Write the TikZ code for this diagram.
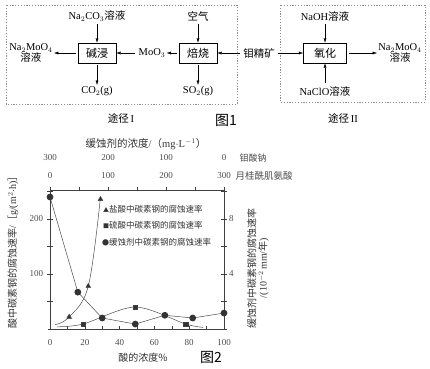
\documentclass[tikz,border=0pt]{standalone}
\usepackage{fontspec}
\setmainfont{Liberation Serif}
\newfontfamily\cjk{Noto Sans CJK SC}
\usetikzlibrary{arrows.meta,positioning,plotmarks}

\tikzset{
  proc/.style={draw, minimum width=38pt, minimum height=20pt, inner sep=0pt, font=\cjk\fontsize{11}{12}\selectfont},
  lbl/.style={inner sep=1pt, align=center, font=\fontsize{10.5}{11}\selectfont},
  flow/.style={-{Latex[length=4.5pt,width=3pt]}, draw=black, shorten <=2pt},
  route/.style={draw=black!45, dash pattern=on 1.2pt off 1.6pt},
  fig/.style={inner sep=0pt, font=\cjk\fontsize{14}{16}\selectfont},
  tk/.style={inner sep=1.5pt, text=black!70, font=\fontsize{9}{10}\selectfont},
  key/.style={anchor=west, inner sep=0pt, text=black!80, font=\cjk\fontsize{8.5}{10}\selectfont},
  curve/.style={draw=black!70, line width=0.5pt}
}

\begin{document}
\begin{tikzpicture}[x=1pt, y=-1pt]
\useasboundingbox (0,0) rectangle (430,368);

% figure 1: the two routes
\draw[route] (6,5) rectangle (237,104);
\draw[route] (280,5) rectangle (425,102);

\node[proc]                    (jian)  at (97,53)  {碱浸};
\node[proc]                    (bei)   at (198,53) {焙烧};
\node[proc,minimum width=43pt] (yang)  at (325,53) {氧化};

\node[lbl] (naco)  at (97,16)  {Na$_2$CO$_3${\cjk 溶液}};
\node[lbl] (air)   at (198,16) {\cjk 空气};
\node[lbl] (co2)   at (97,91)  {CO$_2$(g)};
\node[lbl] (so2)   at (198,91) {SO$_2$(g)};
\node[lbl] (moo)   at (152,53) {MoO$_3$};
\node[lbl] (prodl) at (31,53)  {Na$_2$MoO$_4$\\{\cjk 溶液}};
\node[lbl] (ore)   at (259,53) {\cjk 钼精矿};
\node[lbl] (naoh)  at (325,16) {NaOH{\cjk 溶液}};
\node[lbl] (naclo) at (325,91) {NaClO{\cjk 溶液}};
\node[lbl] (prodr) at (400,53) {Na$_2$MoO$_4$\\{\cjk 溶液}};

\foreach \f/\t in {% start node/end node
	 naco/jian,
	 air/bei,
	 jian/co2,
	 bei/so2,
	 ore/bei,
	 bei/moo,
	 moo/jian,
	 jian/prodl,
	 ore/yang,
	 naoh/yang,
	 naclo/yang,
	 yang/prodr}
	\path[flow] (\f) edge (\t);

\node[lbl] (r1) at (121,118) {{\cjk 途径}\,I};
\node[lbl] (r2) at (343,118) {{\cjk 途径}\,II};
\node[fig] (f1) at (226,120) {图1};

% figure 2: corrosion rates
\begin{scope}[shift={(50,329)}, x=1.74pt, y=0.55pt, draw=black!75]
  \draw (-1,0) -- (102,0);
  \draw (0,0) -- (0,258);
  \draw (100,0) -- (100,258);
  \draw (0,253) -- (100,253);
  \foreach \i in {10,20,...,90}
    \draw (\i,0) -- ++(0,5);
  \foreach \i in {1,...,5}
    \draw (\i*100/6,253) -- ++(0,5);
  \foreach \v in {50,100,...,250} {
    \draw (-1.5,\v) -- (1.5,\v);
    \draw (98.5,\v) -- (101.5,\v);
  }
  \foreach \i in {0,20,...,100}
    \node[tk] (x\i) at (\i,-25) {\i};
  \node[tk,anchor=east] (y1) at (-3,100) {100};
  \node[tk,anchor=east] (y2) at (-3,200) {200};
  \node[tk,anchor=west] (z1) at (102,100) {4};
  \node[tk,anchor=west] (z2) at (102,200) {8};

  % hydrochloric acid
  \draw[curve] plot[smooth, tension=0.6] coordinates {(3,8) (11,22) (22,78) (29,240)};
  \path[fill=black!80] plot[only marks, mark=triangle*, mark size=2.8pt] coordinates {(11,22) (22,78) (29,236)};
  % sulfuric acid
  \draw[curve] plot[smooth] coordinates {(4,4) (19,9) (49,40) (78,9) (88,3)};
  \path[fill=black!80] plot[only marks, mark=square*, mark size=2.3pt] coordinates {(19,9) (49,40) (78,9)};
  % inhibitor
  \draw[curve] (0,240) -- (16,67) -- (30,20) -- (49,9) -- (66,25) -- (82,20) -- (100,29);
  \foreach \p in {(0,240),(16,67),(30,20),(49,9),(66,25),(82,20),(100,29)}
    \fill[black!80] \p circle (3.4pt);
\end{scope}

\node[lbl,text=black!80] (conc) at (146,144) {{\cjk 缓蚀剂的浓度}/{\cjk （}mg$\cdot$L$^{-1}${\cjk ）}};
\foreach \c/\px in {300/50,200/108,100/166,0/224}
  \node[tk] (na\c) at (\px,158) {\c};
\foreach \c/\px in {0/50,100/108,200/166,300/224}
  \node[tk] (la\c) at (\px,176) {\c};
\node[tk,anchor=west,font=\cjk\fontsize{9}{10}\selectfont] (sna) at (238,158) {钼酸钠};
\node[tk,anchor=west,font=\cjk\fontsize{9.5}{10}\selectfont] (sla) at (234,176) {月桂酰肌氨酸};

\node[key] (k1) at (103,209) {{\fontsize{6}{7}\selectfont ▲}盐酸中碳素钢的腐蚀速率};
\node[key] (k2) at (103,225) {{\fontsize{6}{7}\selectfont ■}硫酸中碳素钢的腐蚀速率};
\node[key] (k3) at (102,242) {{\fontsize{7}{7}\selectfont ●}缓蚀剂中碳素钢的腐蚀速率};

\node[lbl,rotate=90,text=black!80,font=\fontsize{10}{11}\selectfont] (ylab) at (13,250)
  {{\cjk 酸中碳素钢的腐蚀速率}/{\cjk ［}g/(m$^2\cdot$h){\cjk ］}};
\node[lbl,rotate=90,text=black!80,font=\fontsize{10}{11}\selectfont] (zlab) at (258,268)
  {{\cjk 缓蚀剂中碳素钢的腐蚀速率}\\/(10$^{-2}$\,mm/{\cjk 年})};
\node[lbl,text=black!80,font=\cjk\fontsize{10}{11}\selectfont] (xlab) at (143,358) {酸的浓度\%};
\node[fig] (f2) at (211,357) {图2};
\end{tikzpicture}
\end{document}
